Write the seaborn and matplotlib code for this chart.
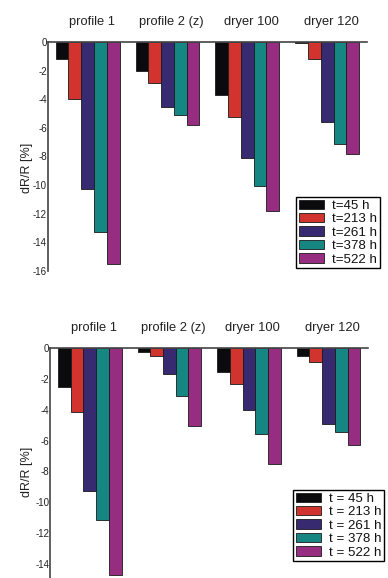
import matplotlib
matplotlib.use("Agg")
import matplotlib.pyplot as plt
import matplotlib.transforms as mtransforms
import seaborn as sns
import pandas as pd
from matplotlib.patches import Patch

sns.set_theme(style="white")
plt.rcParams['font.family'] = ['Liberation Sans', 'DejaVu Sans']

categories = ["profile 1", "profile 2 (z)", "dryer 100", "dryer 120"]
times_top = ["t=45 h", "t=213 h", "t=261 h", "t=378 h", "t=522 h"]
times_bottom = ["t = 45 h", "t = 213 h", "t = 261 h", "t = 378 h", "t = 522 h"]
colors = ["#0b0b0e", "#d1332f", "#382a70", "#168683", "#962d81"]

# top panel values (dR/R in %), one list per time
top_t45 = [-1.2, -2.0, -3.7, -0.08]
top_t213 = [-4.0, -2.85, -5.2, -1.2]
top_t261 = [-10.3, -4.55, -8.1, -5.55]
top_t378 = [-13.3, -5.1, -10.1, -7.15]
top_t522 = [-15.55, -5.8, -11.8, -7.85]

# bottom panel values
bot_t45 = [-2.5, -0.24, -1.56, -0.5]
bot_t213 = [-4.15, -0.52, -2.36, -0.92]
bot_t261 = [-9.3, -1.7, -4.0, -4.95]
bot_t378 = [-11.15, -3.12, -5.55, -5.45]
bot_t522 = [-14.75, -5.05, -7.5, -6.3]

top_series = [top_t45, top_t213, top_t261, top_t378, top_t522]
bot_series = [bot_t45, bot_t213, bot_t261, bot_t378, bot_t522]


def long_df(series, times):
    rows = []
    for t, vals in zip(times, series):
        for c, v in zip(categories, vals):
            rows.append({"sample": c, "time": t, "value": v})
    return pd.DataFrame(rows)


fig = plt.figure(figsize=(3.88, 5.78), dpi=100)
ax1 = fig.add_axes([0.123, 0.5317, 0.823, 0.3951])
ax2 = fig.add_axes([0.129, -0.002, 0.820, 0.3997])


def draw(ax, series, times, ylim, yticks, leg_anchor, leg_fs, label_xy):
    df = long_df(series, times)
    sns.barplot(data=df, x="sample", y="value", hue="time", order=categories,
                hue_order=times, palette=colors, ax=ax, width=0.8,
                edgecolor="#1a1a1a", linewidth=0.6, legend=False, errorbar=None,
                saturation=1)
    ax.set_ylim(*ylim)
    ax.set_xlim(-0.5, 3.5)
    ax.set_yticks(yticks)
    ax.set_yticklabels([f"{v:d}" for v in yticks], fontsize=7)
    for s in ["right", "bottom"]:
        ax.spines[s].set_visible(False)
    for s in ["left", "top"]:
        ax.spines[s].set_visible(True)
        ax.spines[s].set_color("#444444")
        ax.spines[s].set_linewidth(1.2)
    ax.tick_params(axis="y", direction="in", length=2, width=0.8, pad=0.5,
                   colors="#222222")
    ax.tick_params(axis="x", top=False, bottom=False, labeltop=True, labelbottom=False,
                   length=0, pad=10, labelsize=9.3)
    offset = mtransforms.ScaledTranslation(4 / 100, 0, fig.dpi_scale_trans)
    for lab in ax.get_xticklabels():
        lab.set_transform(lab.get_transform() + offset)
        lab.set_color("#222222")
    ax.set_xlabel("")
    ax.set_ylabel("dR/R [%]", fontsize=9, color="#222222")
    ax.yaxis.set_label_coords(*label_xy)
    handles = [Patch(facecolor=c, edgecolor="#1a1a1a", linewidth=0.6) for c in colors]
    leg = ax.legend(handles, times, loc="upper left", bbox_to_anchor=leg_anchor,
                    bbox_transform=fig.transFigure, borderaxespad=0, fontsize=leg_fs,
                    frameon=True, fancybox=False, framealpha=1, edgecolor="black",
                    labelspacing=0.08, handlelength=1.9, handleheight=0.7,
                    handletextpad=0.6, borderpad=0.2)
    leg.get_frame().set_linewidth(1.0)
    for tx in leg.get_texts():
        tx.set_color("#111111")
    ax.set_facecolor("white")


draw(ax1, top_series, times_top, (-16, 0), list(range(0, -17, -2)),
     (296 / 388, 1 - 197 / 578), 9.6, (-0.046, 0.45))
draw(ax2, bot_series, times_bottom, (-15, 0), list(range(0, -15, -2)),
     (293 / 388, 1 - 490 / 578), 9.6, (-0.053, 0.464))

fig.savefig("out.png", dpi=100, facecolor="white")
